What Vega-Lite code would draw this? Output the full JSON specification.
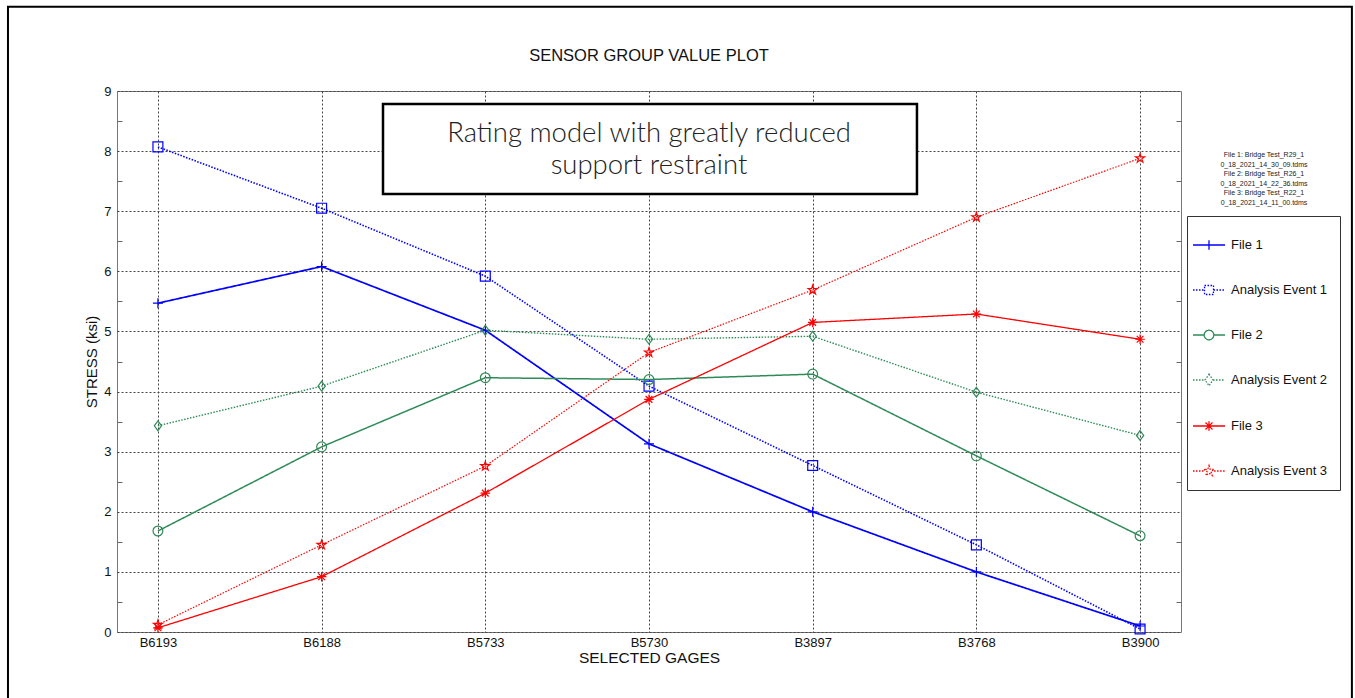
{
  "$schema": "https://vega.github.io/schema/vega-lite/v6.json",
  "width": 1064,
  "height": 541,
  "autosize": {"type": "none"},
  "padding": {"left": 117, "top": 91, "right": 174, "bottom": 66},
  "background": "white",
  "datasets": {
    "main": [
      {"gage": "B6193", "series": "File 1", "value": 5.47},
      {"gage": "B6188", "series": "File 1", "value": 6.08},
      {"gage": "B5733", "series": "File 1", "value": 5.02},
      {"gage": "B5730", "series": "File 1", "value": 3.13},
      {"gage": "B3897", "series": "File 1", "value": 2.00},
      {"gage": "B3768", "series": "File 1", "value": 1.00},
      {"gage": "B3900", "series": "File 1", "value": 0.10},
      {"gage": "B6193", "series": "Analysis Event 1", "value": 8.07},
      {"gage": "B6188", "series": "Analysis Event 1", "value": 7.05},
      {"gage": "B5733", "series": "Analysis Event 1", "value": 5.92},
      {"gage": "B5730", "series": "Analysis Event 1", "value": 4.09},
      {"gage": "B3897", "series": "Analysis Event 1", "value": 2.77},
      {"gage": "B3768", "series": "Analysis Event 1", "value": 1.45},
      {"gage": "B3900", "series": "Analysis Event 1", "value": 0.05},
      {"gage": "B6193", "series": "File 2", "value": 1.68},
      {"gage": "B6188", "series": "File 2", "value": 3.08},
      {"gage": "B5733", "series": "File 2", "value": 4.23},
      {"gage": "B5730", "series": "File 2", "value": 4.20},
      {"gage": "B3897", "series": "File 2", "value": 4.29},
      {"gage": "B3768", "series": "File 2", "value": 2.93},
      {"gage": "B3900", "series": "File 2", "value": 1.60},
      {"gage": "B6193", "series": "Analysis Event 2", "value": 3.43},
      {"gage": "B6188", "series": "Analysis Event 2", "value": 4.09},
      {"gage": "B5733", "series": "Analysis Event 2", "value": 5.02},
      {"gage": "B5730", "series": "Analysis Event 2", "value": 4.87},
      {"gage": "B3897", "series": "Analysis Event 2", "value": 4.92},
      {"gage": "B3768", "series": "Analysis Event 2", "value": 3.99},
      {"gage": "B3900", "series": "Analysis Event 2", "value": 3.27},
      {"gage": "B6193", "series": "File 3", "value": 0.07},
      {"gage": "B6188", "series": "File 3", "value": 0.92},
      {"gage": "B5733", "series": "File 3", "value": 2.31},
      {"gage": "B5730", "series": "File 3", "value": 3.87},
      {"gage": "B3897", "series": "File 3", "value": 5.15},
      {"gage": "B3768", "series": "File 3", "value": 5.29},
      {"gage": "B3900", "series": "File 3", "value": 4.87},
      {"gage": "B6193", "series": "Analysis Event 3", "value": 0.12},
      {"gage": "B6188", "series": "Analysis Event 3", "value": 1.45},
      {"gage": "B5733", "series": "Analysis Event 3", "value": 2.76},
      {"gage": "B5730", "series": "Analysis Event 3", "value": 4.65},
      {"gage": "B3897", "series": "Analysis Event 3", "value": 5.69},
      {"gage": "B3768", "series": "Analysis Event 3", "value": 6.90},
      {"gage": "B3900", "series": "Analysis Event 3", "value": 7.88}
    ],
    "frame": [{"x1": -0.916, "x2": 7.294, "y1": 10.4, "y2": -1.4}],
    "box": [{"x1": 1.375, "x2": 4.637, "y1": 8.784, "y2": 7.287}],
    "note": [{"x": 3.0, "y": 8.28, "text": "Rating model with greatly reduced\nsupport restraint"}],
    "heading": [{"x": 3.0, "y": 9.585, "text": "SENSOR GROUP VALUE PLOT"}],
    "files": [{"x": 6.757, "y": 7.935, "text": "File 1: Bridge Test_R29_1\n0_18_2021_14_30_09.tdms\nFile 2: Bridge Test_R26_1\n0_18_2021_14_22_36.tdms\nFile 3: Bridge Test_R22_1\n0_18_2021_14_11_00.tdms"}]
  },
  "layer": [
    {
      "data": {"name": "frame"},
      "mark": {"type": "rect", "fill": null, "fillOpacity": 0, "stroke": "black", "strokeWidth": 2, "clip": false},
      "encoding": {
        "x": {"field": "x1", "type": "quantitative", "scale": {"domain": [-0.25, 6.25], "nice": false, "zero": false}, "axis": null},
        "x2": {"field": "x2"},
        "y": {"field": "y1", "type": "quantitative", "scale": {"domain": [0, 9], "nice": false}, "axis": {"orient": "left", "values": [0.5, 1.5, 2.5, 3.5, 4.5, 5.5, 6.5, 7.5, 8.5], "labels": false, "ticks": true, "tickSize": -5, "tickColor": "#666", "domain": false, "grid": false, "title": null}},
        "y2": {"field": "y2"}
      }
    },
    {
      "data": {"name": "main"},
      "mark": {"type": "line"},
      "encoding": {
        "x": {"field": "gage", "type": "nominal", "sort": null, "scale": {"type": "point", "padding": 0.25},
              "axis": {"title": "SELECTED GAGES", "orient": "bottom", "labelAngle": 0, "grid": true, "ticks": false, "domain": false, "gridDash": [2, 2], "gridColor": "#444", "gridOpacity": 1, "labelFontSize": 13, "labelPadding": 4, "labelColor": "#111", "titleFontSize": 15.5, "titleFontWeight": "normal", "titlePadding": 1, "titleColor": "#111"}},
        "y": {"field": "value", "type": "quantitative", "scale": {"domain": [0, 9], "nice": false},
              "axis": {"title": "STRESS (ksi)", "orient": "left", "values": [0, 1, 2, 3, 4, 5, 6, 7, 8, 9], "grid": true, "ticks": false, "domain": false, "gridDash": [2, 2], "gridColor": "#444", "gridOpacity": 1, "labelFontSize": 13, "labelPadding": 6, "labelColor": "#111", "titleFontSize": 15, "titleFontWeight": "normal", "titlePadding": 4, "titleColor": "#111"}},
        "color": {"field": "series", "type": "nominal",
                  "scale": {"domain": ["File 1", "Analysis Event 1", "File 2", "Analysis Event 2", "File 3", "Analysis Event 3"], "range": ["#0000ff", "#0000ff", "#2e8b57", "#2e8b57", "#ff0000", "#ff0000"]},
                  "legend": {"orient": "none", "legendX": 1070, "legendY": 125, "title": null, "symbolSize": 1024, "symbolStrokeWidth": 1.3, "symbolOffset": -7, "labelFontSize": 13, "labelColor": "#111", "labelOffset": 5, "padding": 12, "rowPadding": 20, "strokeColor": "#333", "fillColor": "white",
                    "encoding": {
                      "symbols": {
                        "fill": {"value": "transparent"},
                        "shape": {"value": {"expr": "datum.value === 'File 1' ? 'M-1,0H1M0,-0.3V0.3' : datum.value === 'Analysis Event 1' ? 'M-1,0H-0.28M0.28,0H1M-0.28,-0.28H0.28V0.28H-0.28Z' : datum.value === 'File 2' ? 'M-1,0H-0.3M0.3,0H1M-0.3,0A0.3,0.3 0 1,0 0.3,0A0.3,0.3 0 1,0 -0.3,0' : datum.value === 'Analysis Event 2' ? 'M-1,0H-0.25M0.25,0H1M0,-0.36L0.25,0L0,0.36L-0.25,0Z' : datum.value === 'File 3' ? 'M-1,0H1M0,-0.3V0.3M-0.22,-0.22L0.22,0.22M-0.22,0.22L0.22,-0.22' : 'M-1,0H-0.32M0.32,0H1M0,-0.34L0.077,-0.105L0.323,-0.105L0.124,0.04L0.2,0.275L0,0.13L-0.2,0.275L-0.124,0.04L-0.323,-0.105L-0.077,-0.105Z'"}}
                      }
                    }}},
        "strokeDash": {"field": "series", "type": "nominal",
                       "scale": {"domain": ["File 1", "Analysis Event 1", "File 2", "Analysis Event 2", "File 3", "Analysis Event 3"], "range": [[1, 0], [1.5, 1.5], [1, 0], [1.5, 1.5], [1, 0], [1.5, 1.5]]}},
        "strokeWidth": {"field": "series", "type": "nominal", "legend": null, "sort": null,
                        "scale": {"range": [1.7, 1.2, 1.7, 1.2, 1.7, 1.2]}}
      }
    },
    {
      "data": {"name": "main"},
      "mark": {"type": "point", "filled": false, "strokeWidth": 1.2, "opacity": 1},
      "encoding": {
        "x": {"field": "gage", "type": "nominal", "sort": null, "scale": {"type": "point", "padding": 0.25}, "axis": null},
        "y": {"field": "value", "type": "quantitative", "scale": {"domain": [0, 9], "nice": false}, "axis": null},
        "color": {"field": "series", "type": "nominal", "legend": null,
                  "scale": {"domain": ["File 1", "Analysis Event 1", "File 2", "Analysis Event 2", "File 3", "Analysis Event 3"], "range": ["#0000ff", "#0000ff", "#2e8b57", "#2e8b57", "#ff0000", "#ff0000"]}},
        "shape": {"field": "series", "type": "nominal", "legend": null, "sort": null,
                  "scale": {"range": ["M-1,0H1M0,-1V1", "square", "circle", "M0,-1L0.75,0L0,1L-0.75,0Z", "M-1,0H1M0,-1V1M-0.7,-0.7L0.7,0.7M-0.7,0.7L0.7,-0.7", "M0,-1L0.225,-0.309L0.951,-0.309L0.363,0.118L0.588,0.809L0,0.382L-0.588,0.809L-0.363,0.118L-0.951,-0.309L-0.225,-0.309Z"]}},
        "size": {"field": "series", "type": "nominal", "legend": null, "sort": null,
                 "scale": {"range": [100, 90, 110, 140, 120, 160]}}
      }
    },
    {
      "data": {"name": "box"},
      "mark": {"type": "rect", "fill": "white", "stroke": "black", "strokeWidth": 2.5, "clip": false},
      "encoding": {
        "x": {"field": "x1", "type": "quantitative", "scale": {"domain": [-0.25, 6.25], "nice": false, "zero": false}, "axis": null},
        "x2": {"field": "x2"},
        "y": {"field": "y1", "type": "quantitative", "scale": {"domain": [0, 9], "nice": false}, "axis": {"orient": "right", "values": [0.5, 1.5, 2.5, 3.5, 4.5, 5.5, 6.5, 7.5, 8.5], "labels": false, "ticks": true, "tickSize": -5, "tickColor": "#666", "domain": false, "grid": false, "title": null}},
        "y2": {"field": "y2"}
      }
    },
    {
      "data": {"name": "note"},
      "mark": {"type": "text", "font": "Lato", "fontSize": 27.5, "fontWeight": 300, "color": "#222", "align": "center", "baseline": "middle", "lineBreak": "\n", "lineHeight": 32, "clip": false},
      "encoding": {
        "x": {"field": "x", "type": "quantitative", "scale": {"domain": [-0.25, 6.25], "nice": false, "zero": false}, "axis": null},
        "y": {"field": "y", "type": "quantitative", "scale": {"domain": [0, 9], "nice": false}, "axis": null},
        "text": {"field": "text"}
      }
    },
    {
      "data": {"name": "heading"},
      "mark": {"type": "text", "font": "Liberation Sans", "fontSize": 16.5, "color": "#111", "align": "center", "baseline": "middle", "clip": false},
      "encoding": {
        "x": {"field": "x", "type": "quantitative", "scale": {"domain": [-0.25, 6.25], "nice": false, "zero": false}, "axis": null},
        "y": {"field": "y", "type": "quantitative", "scale": {"domain": [0, 9], "nice": false}, "axis": null},
        "text": {"field": "text"}
      }
    },
    {
      "data": {"name": "files"},
      "mark": {"type": "text", "font": "Liberation Sans", "fontSize": 7, "color": "#222", "align": "center", "baseline": "middle", "lineBreak": "\n", "lineHeight": 9.6, "clip": false},
      "encoding": {
        "x": {"field": "x", "type": "quantitative", "scale": {"domain": [-0.25, 6.25], "nice": false, "zero": false}, "axis": null},
        "y": {"field": "y", "type": "quantitative", "scale": {"domain": [0, 9], "nice": false}, "axis": null},
        "text": {"field": "text"}
      }
    }
  ],
  "resolve": {"scale": {"x": "independent"}, "axis": {"x": "independent", "y": "independent"}},
  "config": {
    "font": "Liberation Sans",
    "view": {"stroke": "#777", "strokeWidth": 1}
  }
}
